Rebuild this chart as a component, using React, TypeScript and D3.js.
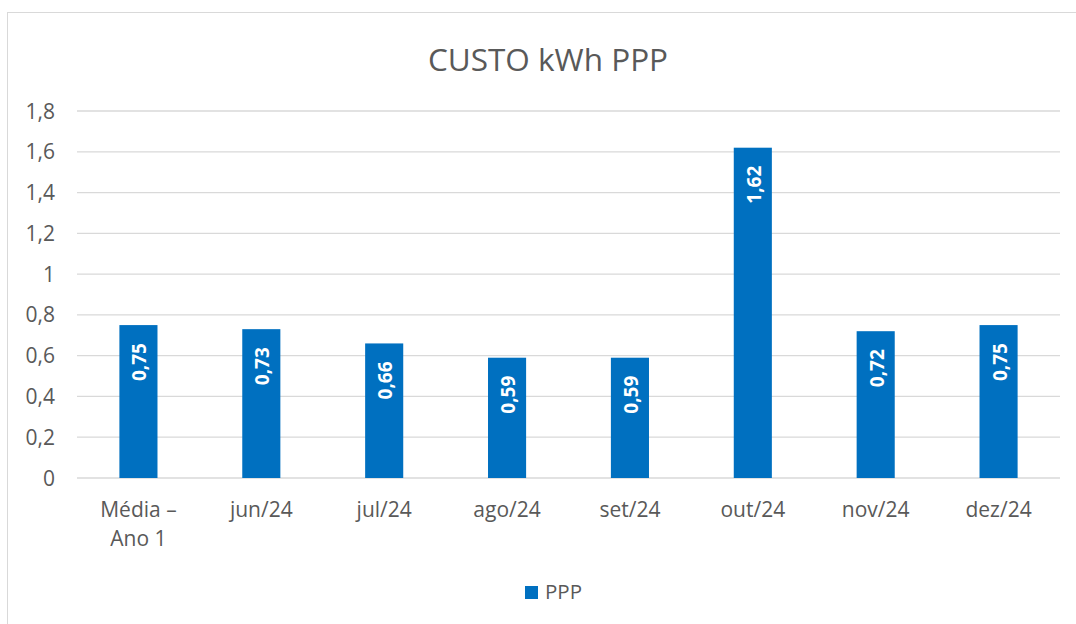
import React from "react";
import * as d3 from "d3";

const categories = ["Média – Ano 1", "jun/24", "jul/24", "ago/24", "set/24", "out/24", "nov/24", "dez/24"];
const pppValues = [0.75, 0.73, 0.66, 0.59, 0.59, 1.62, 0.72, 0.75];
const yTicks = [0, 0.2, 0.4, 0.6, 0.8, 1, 1.2, 1.4, 1.6, 1.8];

const width = 1076;
const height = 624;
const margin = { top: 111, right: 16, bottom: 146, left: 77 };
const font = "'Open Sans', sans-serif";
const fmt = (v: number) => String(v).replace(".", ",");

const App = () => {
  const x = d3
    .scaleBand<string>()
    .domain(categories)
    .range([margin.left, width - margin.right])
    .padding(0);
  const y = d3
    .scaleLinear()
    .domain([0, 1.8])
    .range([height - margin.bottom, margin.top]);
  const barW = x.bandwidth() * 0.31;

  return (
    <svg
      width={width}
      height={height}
      style={{ position: "absolute", left: 0, top: 0, fontFamily: font }}
    >
      <rect x={7.5} y={12.5} width={width} height={height} fill="#fff" stroke="#d9d9d9" />
      <text x={548} y={71} textAnchor="middle" fontSize={31.5} fill="#595959">
        CUSTO kWh PPP
      </text>
      {yTicks.map((t) => (
        <g key={t}>
          <line
            x1={margin.left}
            x2={width - margin.right}
            y1={y(t)}
            y2={y(t)}
            stroke="#d9d9d9"
            strokeWidth={1.3}
          />
          <text x={55} y={y(t)} dy="0.36em" textAnchor="end" fontSize={21} fill="#595959">
            {fmt(t)}
          </text>
        </g>
      ))}
      {categories.map((c, i) => {
        const cx = (x(c) as number) + x.bandwidth() / 2;
        const top = y(pppValues[i]);
        const lines = c === "Média – Ano 1" ? ["Média –", "Ano 1"] : [c];
        return (
          <g key={c}>
            <rect
              x={cx - barW / 2}
              y={top}
              width={barW}
              height={y(0) - top}
              fill="#0070c0"
            />
            <text
              transform={`translate(${cx + 8},${top + 18}) rotate(-90)`}
              textAnchor="end"
              fontSize={19}
              fontWeight="bold"
              fill="#fff"
            >
              {fmt(pppValues[i])}
            </text>
            {lines.map((l, j) => (
              <text
                key={l}
                x={cx}
                y={517 + j * 29}
                textAnchor="middle"
                fontSize={21}
                fill="#595959"
              >
                {l}
              </text>
            ))}
          </g>
        );
      })}
      <rect x={525} y={586} width={13} height={13} fill="#0070c0" />
      <text x={545} y={599} fontSize={20.5} fill="#595959">
        PPP
      </text>
    </svg>
  );
};

export default App;
